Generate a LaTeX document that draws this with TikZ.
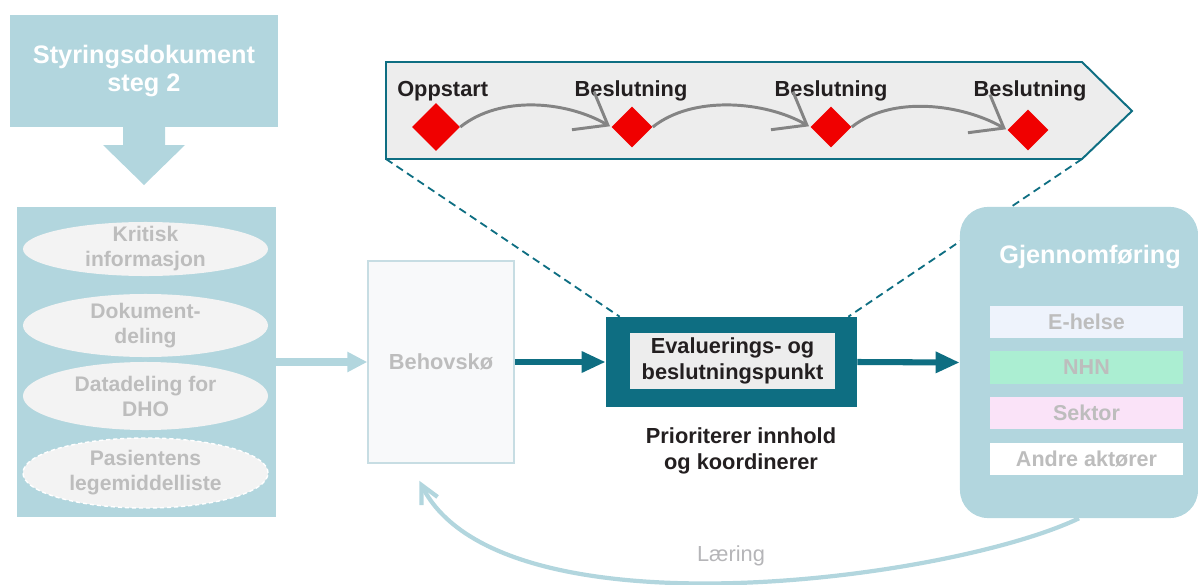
\documentclass[tikz,border=0pt]{standalone}
\usepackage{fontspec}
\setmainfont{Liberation Sans}
\usepackage{tikz}
\usetikzlibrary{positioning,arrows.meta,shapes.geometric}
\usepackage{xcolor}
\definecolor{paleblue}{HTML}{B2D6DE}
\definecolor{deepteal}{HTML}{0E6E82}
\definecolor{panelgray}{HTML}{EDEDED}
\definecolor{pillfill}{HTML}{F3F3F3}
\definecolor{fadetext}{HTML}{BDBDBD}
\definecolor{inktext}{HTML}{231F20}
\definecolor{msred}{HTML}{F00000}
\definecolor{curvegray}{HTML}{848484}
\definecolor{ehelse}{HTML}{EEF3FC}
\definecolor{nhn}{HTML}{ABEED2}
\definecolor{sektor}{HTML}{FAE3F8}
\definecolor{queuefill}{HTML}{F8F9FA}
\definecolor{queueline}{HTML}{C7DDE3}
\definecolor{learngray}{HTML}{B5B5B8}

\begin{document}
\begin{tikzpicture}[x=0.025cm, y=-0.025cm,
  blk/.style={fill=paleblue, inner sep=0pt},
  pill/.style={ellipse, fill=pillfill, minimum width=6.125cm, inner xsep=0pt,
               inner ysep=-6pt, align=center, text=fadetext,
               font=\fontsize{15}{17.8}\selectfont\bfseries},
  actor/.style={minimum width=4.825cm, minimum height=0.8cm, inner sep=0pt,
                text=fadetext, font=\fontsize{15.3}{18}\selectfont\bfseries},
  ms/.style={diamond, fill=msred, inner sep=0pt, minimum size=1.025cm},
  tag/.style={text=inktext, inner sep=0pt,
              font=\fontsize{15.5}{18.5}\selectfont\bfseries},
  hop/.style={curvegray, line width=2.1pt, shorten >=1pt,
              -{Straight Barb[length=0.72cm, width=1.1cm]}},
  flow/.style={deepteal, line width=4.3pt, -{Triangle[length=0.6cm, width=0.5cm]}},
  ]
  \useasboundingbox (0,0) rectangle (1198,585);

  \node[blk, minimum width=6.7cm, minimum height=2.775cm, align=center, text=white,
        font=\fontsize{18}{20}\selectfont\bfseries] (styr) at (144,71) {Styringsdokument\\steg 2};
  \fill[paleblue] (123,126) -- (165,126) -- (165,145) -- (185,145) -- (144,185)
                  -- (103,145) -- (123,145) -- cycle;

  \node[blk, minimum width=6.475cm, minimum height=7.75cm] (krav) at (146.5,362) {};
  \node[pill, minimum height=1.35cm] (k1) at (145.5,249) {Kritisk\\informasjon};
  \node[pill, minimum height=1.575cm] (k2) at (145.5,325.5) {Dokument-\\deling};
  \node[pill, minimum height=1.7cm] (k3) at (145.5,396) {Datadeling for\\DHO};
  \node[pill, minimum height=1.75cm, draw=white, line width=1pt,
        dash pattern=on 3pt off 2pt] (k4) at (145.5,473) {Pasientens\\legemiddelliste};

  \node[draw=queueline, line width=1pt, fill=queuefill, minimum width=3.65cm,
        minimum height=5.05cm, text=fadetext,
        font=\fontsize{15.5}{18}\selectfont\bfseries] (behov) at (441,362) {Behovskø};
  \draw[paleblue, line width=5pt, -{Triangle[length=0.5cm, width=0.48cm]}] (krav.east) -- (behov.west);

  \draw[deepteal, line width=1.4pt, fill=panelgray] (386,62) coordinate (cnw) -- (1082,62)
        -- (1132,111) -- (1082,159) coordinate (cse) -- (386,159) coordinate (csw) -- cycle;
  \node[tag, anchor=base west] (o1) at (397,96) {Oppstart};
  \node[tag, anchor=base] (b1) at (631,96) {Beslutning};
  \node[tag, anchor=base] (b2) at (831,96) {Beslutning};
  \node[tag, anchor=base] (b3) at (1030,96) {Beslutning};
  \node[ms, minimum size=1.2cm] (d1) at (436,127) {};
  \node[ms] (d2) at (632,127) {};
  \node[ms] (d3) at (831,127) {};
  \node[ms] (d4) at (1028,130) {};
  \draw[hop] (d1.east) .. controls +(40,-32) and +(-45,-26) .. (d2.west);
  \draw[hop] (d2.east) .. controls +(40,-32) and +(-45,-26) .. (d3.west);
  \draw[hop] (d3.east) .. controls +(40,-32) and +(-45,-26) .. (d4.west);

  \node[fill=deepteal, minimum width=6.275cm, minimum height=2.25cm] (eval) at (731.5,362) {};
  \draw[deepteal, line width=1.3pt, dash pattern=on 5.5pt off 3.5pt] (csw) -- ([xshift=0.35cm]eval.north west);
  \draw[deepteal, line width=1.3pt, dash pattern=on 5.5pt off 3.5pt] (cse) -- ([xshift=-0.225cm]eval.north east);
  \node[tag, fill=panelgray, minimum width=5.125cm, minimum height=1.4cm, align=center]
        (evaltxt) at (732.5,361) {Evaluerings- og\\beslutningspunkt};
  \node[tag, align=center, font=\fontsize{15.5}{19}\selectfont\bfseries]
        (prio) at (741,451) {Prioriterer innhold\\og koordinerer};

  \node[blk, rounded corners=0.7cm, minimum width=5.95cm, minimum height=7.775cm] (gjen) at (1079,362.5) {};
  \node[text=white, inner sep=0pt, font=\fontsize{18}{20}\selectfont\bfseries] (gtitle) at (1090,257) {Gjennomføring};
  \node[actor, fill=ehelse] (e1) at (1086.5,322) {E-helse};
  \node[actor, fill=nhn] (e2) at (1086.5,367.5) {NHN};
  \node[actor, fill=sektor] (e3) at (1086.5,413) {Sektor};
  \node[actor, fill=white] (e4) at (1086.5,458.5) {Andre aktører};

  \draw[flow] (behov.east) -- (eval.west);
  \draw[flow] (eval.east) -- (gjen.west);

  \draw[paleblue, line width=3pt, -{Straight Barb[length=0.45cm, width=0.45cm]}]
        (gjen.south) .. controls (950,580) and (500,640) .. ([xshift=1.3cm, yshift=-0.425cm]behov.south west);
  \node[text=learngray, font=\fontsize{15.5}{18}\selectfont] (laering) at (731,556) {Læring};
\end{tikzpicture}
\end{document}
